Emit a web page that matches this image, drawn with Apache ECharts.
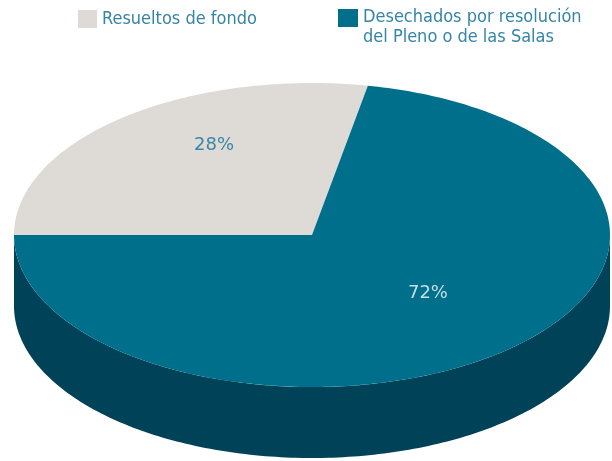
<!DOCTYPE html>
<html>
<head>
<meta charset="utf-8">
<script src="https://cdn.jsdelivr.net/npm/echarts@6/dist/echarts.min.js"></script>
<style>
    html, body { margin: 0; padding: 0; background: #fff; }
    #main { width: 612px; height: 461px; }
</style>
</head>
<body>
<div id="main"></div>
<script>
// datos
const categories = ['Resueltos de fondo', 'Desechados por resolución\ndel Pleno o de las Salas'];
const values = [28, 72];

const total = values.reduce((a, b) => a + b, 0);
const startAngle = 180;   // el primer sector empieza a las 9
const depth = 0.467;      // grosor del disco en unidades del eje y
const FONT = 'DejaVu Sans';
const LEGEND_FONT = 'DejaVu Sans Condensed';

const topColors = ['#dedad5', '#006f8c'];
const sideColors = ['#a8a39d', '#004258'];
const labelColors = ['#3a87a8', '#c6dde6'];
const labelOffset = [[16, -19], [2, -12]];

function sliceAngles(i) {
    let before = 0;
    for (let j = 0; j < i; j++) before += values[j];
    const a0 = startAngle - 360 * before / total;
    const a1 = a0 - 360 * values[i] / total;
    return [a1, a0];
}

function arc(api, from, to, dy) {
    const pts = [];
    const n = Math.max(2, Math.ceil(Math.abs(to - from)));
    for (let k = 0; k <= n; k++) {
        const a = (from + (to - from) * k / n) * Math.PI / 180;
        pts.push(api.coord([Math.cos(a), Math.sin(a) - dy]));
    }
    return pts;
}

function renderSlice(i) {
    return function (params, api) {
        const [a1, a0] = sliceAngles(i);
        const children = [];

        // pared lateral (solo la mitad delantera)
        [-360, 0, 360].forEach(function (k) {
            const lo = Math.max(a1, -180 + k);
            const hi = Math.min(a0, 0 + k);
            if (hi - lo > 0.01) {
                const pts = arc(api, lo, hi, 0).concat(arc(api, hi, lo, depth));
                children.push({
                    type: 'polygon',
                    shape: { points: pts },
                    style: { fill: sideColors[i] },
                    z2: 1
                });
            }
        });

        // cara superior
        const top = [api.coord([0, 0])].concat(arc(api, a0, a1, 0));
        children.push({
            type: 'polygon',
            shape: { points: top },
            style: { fill: topColors[i] },
            z2: 2
        });

        // etiqueta
        const mid = (a0 + a1) / 2 * Math.PI / 180;
        const p = api.coord([0.6 * Math.cos(mid), 0.6 * Math.sin(mid)]);
        children.push({
            type: 'text',
            x: p[0] + labelOffset[i][0],
            y: p[1] + labelOffset[i][1],
            style: {
                text: Math.round(values[i] / total * 100) + '%',
                fill: labelColors[i],
                font: '18px "' + FONT + '"',
                align: 'center',
                verticalAlign: 'middle'
            },
            z2: 3
        });

        return { type: 'group', children: children };
    };
}

const myChart = echarts.init(document.getElementById('main'));

const option = {
    backgroundColor: '#fff',
    animation: false,
    grid: { left: 14, right: 2, top: 83, bottom: 3 },
    xAxis: { type: 'value', min: -1, max: 1, show: false },
    yAxis: { type: 'value', min: -1 - depth, max: 1, show: false },
    legend: [{
        left: 78,
        top: 10,
        padding: 0,
        itemWidth: 19,
        itemHeight: 18,
        data: [{ name: categories[0], icon: 'rect', itemStyle: { color: topColors[0] } }],
        textStyle: { fontFamily: LEGEND_FONT, fontSize: 18, color: '#3585a6' }
    }, {
        left: 338,
        top: 8,
        padding: 0,
        itemWidth: 20,
        itemHeight: 18,
        data: [{ name: categories[1], icon: 'rect', itemStyle: { color: topColors[1] } }],
        // la primera línea queda alineada con el cuadro
        formatter: function (name) {
            return name.split('\n').map(function (s, k) {
                return '{l' + k + '|' + s + '}';
            }).join('\n');
        },
        textStyle: {
            fontFamily: LEGEND_FONT, fontSize: 18, color: '#3585a6',
            rich: {
                l0: { fontFamily: LEGEND_FONT, fontSize: 18, color: '#3585a6', lineHeight: 38 },
                l1: { fontFamily: LEGEND_FONT, fontSize: 18, color: '#3585a6', lineHeight: 2 }
            }
        }
    }],
    series: categories.map(function (name, i) {
        return {
            name: name,
            type: 'custom',
            renderItem: renderSlice(i),
            itemStyle: { color: topColors[i] },
            silent: true,
            data: [[0, 0]]
        };
    })
};

myChart.setOption(option);
</script>
</body>
</html>
